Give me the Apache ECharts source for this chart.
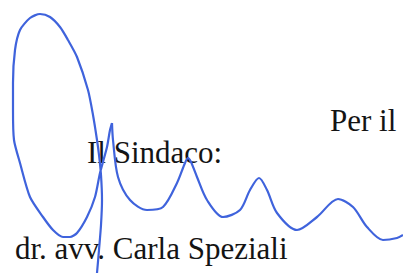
<!DOCTYPE html>
<html>
<head>
<meta charset="utf-8">
<script src="https://cdn.jsdelivr.net/npm/echarts@6/dist/echarts.min.js"></script>
<style>
  html, body { margin: 0; padding: 0; background: #fff; }
  #chart { width: 403px; height: 273px; }
</style>
</head>
<body>
<div id="chart"></div>
<script>
// signature strokes (x, y in page pixels, y down)
const loopX = [97, 99, 101, 102, 101, 99, 97, 93, 88, 77, 68, 60, 50, 40, 30, 20, 15, 13, 13, 14, 20, 30, 43, 53, 63, 70, 77, 87, 95, 100, 107, 110, 112];
const loopY = [273, 250, 225, 200, 175, 155, 140, 115, 90, 57, 40, 27, 17, 14, 18, 30, 50, 83, 110, 140, 163, 197, 217, 230, 237, 237, 233, 217, 197, 173, 147, 130, 123];
const waveX = [112, 113, 118, 130, 147, 163, 177, 185, 188, 191, 197, 207, 223, 240, 250, 259, 267, 277, 297, 317, 338, 353, 367, 383, 397, 403];
const waveY = [123, 140, 177, 200, 210, 207, 183, 163, 158, 162, 177, 200, 217, 210, 190, 178, 190, 213, 230, 217, 199, 207, 227, 240, 238, 235];

// typed lines: text, left x, baseline y
const lines = [
  ['Per il', 330, 133],
  ['Il Sindaco:', 87, 165],
  ['dr. avv. Carla Speziali', 15, 261]
];

const inkColor = '#3f63dc';
const fontSize = 31;
const pts = (xs, ys) => xs.map((x, i) => [x, ys[i]]);

const chart = echarts.init(document.getElementById('chart'), null, { renderer: 'svg' });
chart.setOption({
  animation: false,
  backgroundColor: '#fff',
  grid: { left: 0, right: 0, top: 0, bottom: 0 },
  xAxis: { type: 'value', min: 0, max: 403, show: false },
  yAxis: { type: 'value', min: 0, max: 273, inverse: true, show: false },
  graphic: lines.map(([text, x, y]) => ({
    type: 'text', x: x, y: y - 28, z: 1,
    style: { text: text, fill: '#141414', font: fontSize + 'px "Liberation Serif", serif' }
  })),
  series: [
    { type: 'line', data: pts(loopX, loopY), smooth: 0.25, symbol: 'none', z: 5,
      lineStyle: { color: inkColor, width: 2.2 } },
    { type: 'line', data: pts(waveX, waveY), smooth: 0.3, symbol: 'none', z: 5,
      lineStyle: { color: inkColor, width: 2.2 } }
  ]
});
</script>
</body>
</html>
